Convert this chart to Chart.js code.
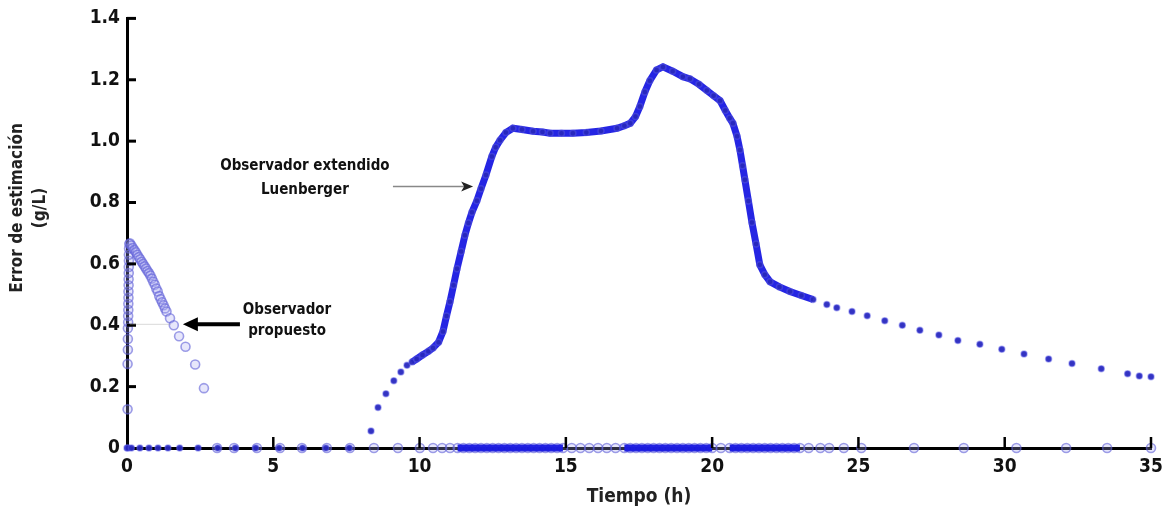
<!DOCTYPE html>
<html>
<head>
<meta charset="utf-8">
<script src="https://cdn.jsdelivr.net/npm/chart.js@4/dist/chart.umd.min.js"></script>
<style>
  html, body { margin: 0; padding: 0; background: #fff; }
  #wrap { width: 1171px; height: 512px; }
</style>
</head>
<body>
<div id="wrap"><canvas id="chart"></canvas></div>
<script>
// tick labels
const xTickLabels = ['0', '5', '10', '15', '20', '25', '30', '35'];
const yTickLabels = ['0', '0.2', '0.4', '0.6', '0.8', '1.0', '1.2', '1.4'];

// Observador extendido Luenberger (time h, error g/L)
const lueT = [0, 0.03, 0.15, 0.44, 0.75, 1.06, 1.4, 1.8, 2.43, 3.1, 3.7, 4.4, 5.2, 6.0, 6.8, 7.6,
  8.34, 8.58, 8.85, 9.12, 9.36, 9.57, 9.74, 9.9, 10.1, 10.3, 10.46, 10.65, 10.8, 10.92, 11.04, 11.16,
  11.28, 11.42, 11.55, 11.67, 11.79, 11.96, 12.1, 12.27, 12.47, 12.6, 12.75, 12.95, 13.19, 13.5,
  13.88, 14.2, 14.46, 14.85, 15.24, 15.7, 16.2, 16.75, 17.0, 17.2, 17.38, 17.53, 17.7, 17.87, 18.1,
  18.32, 18.65, 19.0, 19.24, 19.55, 19.82, 20.05, 20.27, 20.45, 20.6, 20.71, 20.85, 20.95, 21.04,
  21.12, 21.24, 21.36, 21.5, 21.63, 21.8, 21.98, 22.3, 22.66, 23.05, 23.45, 23.92, 24.26, 24.78,
  25.3, 25.9, 26.5, 27.1, 27.75, 28.4, 29.15, 29.9, 30.66, 31.5, 32.3, 33.3, 34.2, 34.6, 35.0];
const lueY = [0, 0, 0, 0, 0, 0, 0, 0, 0, 0, 0, 0, 0, 0, 0, 0,
  0.055, 0.132, 0.177, 0.219, 0.248, 0.27, 0.28, 0.29, 0.303, 0.315, 0.326, 0.345, 0.38, 0.43, 0.477, 0.53,
  0.584, 0.64, 0.693, 0.733, 0.768, 0.806, 0.845, 0.89, 0.95, 0.98, 1.003, 1.028, 1.042, 1.038,
  1.032, 1.03, 1.026, 1.026, 1.026, 1.028, 1.033, 1.042, 1.05, 1.058, 1.08, 1.113, 1.16, 1.197, 1.232,
  1.242, 1.228, 1.21, 1.203, 1.185, 1.165, 1.148, 1.132, 1.1, 1.075, 1.058, 1.016, 0.971, 0.92,
  0.874, 0.805, 0.735, 0.665, 0.597, 0.565, 0.542, 0.525, 0.51, 0.497, 0.484, 0.468, 0.457, 0.445,
  0.431, 0.415, 0.4, 0.384, 0.368, 0.35, 0.338, 0.322, 0.306, 0.29, 0.275, 0.258, 0.242, 0.235, 0.232];

// Observador propuesto, initial transient
const propT = [0.02, 0.02, 0.03, 0.03, 0.03, 0.04, 0.04, 0.045, 0.045, 0.05, 0.05, 0.055, 0.055, 0.06, 0.06,
  0.065, 0.065, 0.07, 0.08,
  0.10, 0.15, 0.20, 0.25, 0.30, 0.35, 0.40, 0.45, 0.50, 0.55, 0.60, 0.65, 0.70, 0.75, 0.80, 0.85, 0.90,
  0.95, 1.00, 1.05, 1.10, 1.15, 1.20, 1.25, 1.30, 1.35, 1.47, 1.6, 1.78, 2.0, 2.33, 2.63];
const propY = [0.126, 0.274, 0.32, 0.355, 0.39, 0.41, 0.43, 0.45, 0.47, 0.49, 0.51, 0.53, 0.55, 0.57, 0.59,
  0.61, 0.63, 0.65, 0.665,
  0.667, 0.66, 0.652, 0.645, 0.638, 0.63, 0.622, 0.615, 0.607, 0.6, 0.592, 0.585, 0.577, 0.57, 0.562, 0.552, 0.542,
  0.532, 0.52, 0.51, 0.495, 0.485, 0.475, 0.465, 0.455, 0.445, 0.423, 0.4, 0.364, 0.33, 0.272, 0.195];

// Observador propuesto, points sitting on zero error
const propZeroT = [3.08, 3.66, 4.44, 5.23, 5.98, 6.83, 7.62, 8.44, 9.26, 10.01, 10.46, 10.77, 11.04, 11.3,
  11.5, 11.7, 11.9, 12.1, 12.3, 12.5, 12.7, 12.9, 13.1, 13.3, 13.5, 13.7, 13.9, 14.1, 14.3, 14.5, 14.7, 14.9,
  15.2, 15.5, 15.8, 16.1, 16.4, 16.7, 17.0,
  17.2, 17.4, 17.6, 17.8, 18.0, 18.2, 18.4, 18.6, 18.8, 19.0, 19.2, 19.4, 19.6, 19.8, 20.0,
  20.3, 20.6,
  20.8, 21.0, 21.2, 21.4, 21.6, 21.8, 22.0, 22.2, 22.4, 22.6, 22.8, 23.0,
  23.3, 23.7, 24.0, 24.5, 25.1, 26.9, 28.6, 30.4, 32.1, 33.5, 35.0];

const LUE_BAND = [9.7, 23.5];
const FONT = "'Liberation Sans Narrow', 'DejaVu Sans Condensed', 'Arial Narrow', sans-serif";
const BLUE = 'rgba(25,25,225,0.95)';
const CIRCLE_FILL = 'rgba(170,170,240,0.28)';
const CIRCLE_EDGE = 'rgba(95,95,215,0.6)';

const toPts = (xs, ys) => xs.map((x, i) => ({ x: x, y: ys[i] }));
const zeroPts = propZeroT.map(x => ({ x: x, y: 0 }));

// group the closely packed zero points into runs, drawn as a solid band
const zeroRuns = [];
propZeroT.forEach((x, i) => {
    if (i > 0 && x - propZeroT[i - 1] <= 0.21) zeroRuns[zeroRuns.length - 1].push(x);
    else zeroRuns.push([x]);
});
const bandSets = zeroRuns.filter(r => r.length > 1).map(r => ({
    type: 'line',
    label: 'band',
    data: r.map(x => ({ x: x, y: 0 })),
    borderColor: BLUE,
    borderWidth: 7,
    pointRadius: 0,
    clip: false,
    order: 1
}));

// inward ticks, annotations and y title
const decorPlugin = {
    id: 'decor',
    afterDatasetsDraw(chart) {
        const { ctx, chartArea, scales } = chart;
        const xs = scales.x, ys = scales.y;
        ctx.save();
        ctx.strokeStyle = '#000';
        ctx.lineWidth = 3;
        yTickLabels.forEach((lab, i) => {
            if (i === 0) return;
            const py = ys.getPixelForValue(i * 0.2);
            ctx.beginPath();
            ctx.moveTo(chartArea.left, py);
            ctx.lineTo(chartArea.left + 9, py);
            ctx.stroke();
        });
        ctx.lineWidth = 2.5;
        xTickLabels.forEach((lab, i) => {
            if (i === 0) return;
            const px = xs.getPixelForValue(i * 5);
            ctx.beginPath();
            ctx.moveTo(px, chartArea.bottom);
            ctx.lineTo(px, chartArea.bottom - 11);
            ctx.stroke();
        });

        // Luenberger annotation
        ctx.fillStyle = '#111';
        ctx.font = 'bold 15px ' + FONT;
        ctx.textAlign = 'center';
        ctx.textBaseline = 'middle';
        ctx.fillText('Observador extendido', xs.getPixelForValue(6.08), ys.getPixelForValue(0.919));
        ctx.fillText('Luenberger', xs.getPixelForValue(6.08), ys.getPixelForValue(0.842));
        let ay = ys.getPixelForValue(0.852);
        let x0 = xs.getPixelForValue(9.09), x1 = xs.getPixelForValue(11.83);
        ctx.strokeStyle = '#888';
        ctx.lineWidth = 1.5;
        ctx.beginPath();
        ctx.moveTo(x0, ay);
        ctx.lineTo(x1 - 8, ay);
        ctx.stroke();
        ctx.fillStyle = '#222';
        ctx.beginPath();
        ctx.moveTo(x1, ay);
        ctx.lineTo(x1 - 12, ay - 5);
        ctx.lineTo(x1 - 9, ay);
        ctx.lineTo(x1 - 12, ay + 5);
        ctx.closePath();
        ctx.fill();

        // propuesto annotation
        ctx.fillStyle = '#111';
        ctx.fillText('Observador', xs.getPixelForValue(5.47), ys.getPixelForValue(0.448));
        ctx.fillText('propuesto', xs.getPixelForValue(5.47), ys.getPixelForValue(0.381));
        ay = ys.getPixelForValue(0.403);
        x0 = xs.getPixelForValue(3.86);
        x1 = xs.getPixelForValue(1.91);
        ctx.strokeStyle = 'rgba(150,150,150,0.35)';
        ctx.lineWidth = 1;
        ctx.beginPath();
        ctx.moveTo(chartArea.left + 3, ay);
        ctx.lineTo(x1 - 12, ay);
        ctx.stroke();
        ctx.strokeStyle = '#000';
        ctx.lineWidth = 4;
        ctx.beginPath();
        ctx.moveTo(x0, ay);
        ctx.lineTo(x1 + 10, ay);
        ctx.stroke();
        ctx.fillStyle = '#000';
        ctx.beginPath();
        ctx.moveTo(x1, ay);
        ctx.lineTo(x1 + 15, ay - 7);
        ctx.lineTo(x1 + 15, ay + 7);
        ctx.closePath();
        ctx.fill();

        // y axis title (two lines)
        ctx.font = 'bold 17px ' + FONT;
        ctx.translate(18, 208);
        ctx.rotate(-Math.PI / 2);
        ctx.fillStyle = '#222';
        ctx.fillText('Error de estimación', 0, 0);
        ctx.fillText('(g/L)', 0, 23);
        ctx.restore();
    }
};

const chart = new Chart(document.getElementById('chart'), {
    type: 'scatter',
    data: {
        datasets: [
            {
                label: 'Observador extendido Luenberger',
                data: toPts(lueT, lueY),
                showLine: true,
                borderColor: BLUE,
                borderWidth: 7,
                segment: {
                    borderColor: c => (lueT[c.p0DataIndex] >= LUE_BAND[0] && lueT[c.p1DataIndex] <= LUE_BAND[1]) ? BLUE : 'transparent'
                },
                pointRadius: 3,
                pointBackgroundColor: 'rgba(40,40,190,0.95)',
                pointBorderColor: 'rgba(90,90,230,0.45)',
                pointBorderWidth: 1.5,
                clip: false,
                order: 0
            },
            {
                label: 'Observador propuesto',
                data: toPts(propT, propY),
                showLine: false,
                pointRadius: 4.5,
                pointBackgroundColor: CIRCLE_FILL,
                pointBorderColor: CIRCLE_EDGE,
                pointBorderWidth: 1.6,
                clip: false,
                order: 1
            },
            {
                label: 'Observador propuesto (cero)',
                data: zeroPts,
                showLine: false,
                pointRadius: 4.5,
                pointBackgroundColor: CIRCLE_FILL,
                pointBorderColor: CIRCLE_EDGE,
                pointBorderWidth: 1.6,
                clip: false,
                order: 2
            },
            ...bandSets
        ]
    },
    options: {
        responsive: true,
        maintainAspectRatio: false,
        animation: false,
        layout: { padding: { top: 15, right: 20, left: 0, bottom: 0 } },
        plugins: {
            legend: { display: false },
            tooltip: { enabled: false }
        },
        scales: {
            x: {
                type: 'linear',
                min: 0,
                max: 35,
                afterFit: s => { s.height = 64; },
                grid: { display: false, drawTicks: false },
                border: { display: true, color: '#000', width: 3 },
                ticks: {
                    stepSize: 5,
                    padding: 8,
                    color: '#111',
                    font: { family: FONT, size: 19, weight: 'bold' },
                    callback: v => xTickLabels[Math.round(v / 5)]
                },
                title: {
                    display: true,
                    text: 'Tiempo (h)',
                    color: '#222',
                    padding: { top: 0 },
                    font: { family: FONT, size: 19, weight: 'bold' }
                }
            },
            y: {
                min: 0,
                max: 1.4,
                afterFit: s => { s.width = 127; },
                grid: { display: false, drawTicks: false },
                border: { display: true, color: '#000', width: 3 },
                ticks: {
                    stepSize: 0.2,
                    padding: 7,
                    color: '#111',
                    font: { family: FONT, size: 19, weight: 'bold' },
                    callback: v => yTickLabels[Math.round(v / 0.2)]
                }
            }
        }
    },
    plugins: [decorPlugin]
});
</script>
</body>
</html>
